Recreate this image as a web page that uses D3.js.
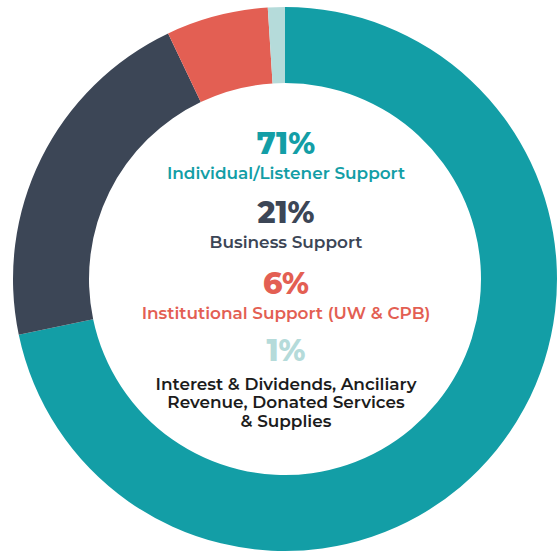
<!DOCTYPE html>
<html>
<head>
<meta charset="utf-8">
<script src="https://cdn.jsdelivr.net/npm/d3@7"></script>
<style>
  html, body { margin: 0; padding: 0; background: #ffffff; }
  svg { display: block; }
  text { font-family: "Montserrat", "Open Sans", sans-serif; text-anchor: middle; }
</style>
</head>
<body>
<div id="chart"></div>
<script>

// ***************************** DATA *****************************
var categories = [
    "Individual/Listener Support",
    "Business Support",
    "Institutional Support (UW & CPB)",
    "Interest & Dividends, Anciliary Revenue, Donated Services & Supplies"
];
var values = [71, 21, 6, 1];
var percent_labels = ["71%", "21%", "6%", "1%"];
// how each category name is broken over lines inside the hole
var label_lines = [
    ["Individual/Listener Support"],
    ["Business Support"],
    ["Institutional Support (UW & CPB)"],
    ["Interest & Dividends, Anciliary", "Revenue, Donated Services", "& Supplies"]
];

// ***************************** STYLE *****************************
var palette = ["#139ea6", "#3c4656", "#e35f53", "#b5dbda"];
var label_colors = ["#139ea6", "#3c4656", "#e35f53", "#1c1c1c"];

var svg_width = 560,
    svg_height = 552,
    cx = 285,
    cy = 279,
    r_outer = 272,
    r_inner = 196;

// baseline of the percent for each block, label lines follow below it
var block_y = [154, 223, 294, 361];
var label_gap = [25, 25, 25, 28.5],
    line_h = 18.6;

var svg = d3.select("#chart").append("svg")
    .attr("width", svg_width)
    .attr("height", svg_height);

// ***************************** DONUT *****************************
var pie = d3.pie().sort(null).value(function(d) { return d; });
var arc = d3.arc().innerRadius(r_inner).outerRadius(r_outer);

var g = svg.append("g")
    .attr("transform", "translate(" + cx + "," + cy + ")");

g.selectAll("path")
    .data(pie(values))
    .enter()
    .append("path")
      .attr("d", arc)
      .attr("fill", function(d, i) { return palette[i]; })
      .attr("shape-rendering", "geometricPrecision");

// ***************************** LABELS *****************************
for (var i = 0; i < categories.length; i++) {
    svg.append("text")
        .attr("x", cx + 1)
        .attr("y", block_y[i])
        .attr("fill", palette[i])
        .attr("font-size", 30)
        .attr("font-weight", 800)
        .text(percent_labels[i]);

    var lab = svg.append("text")
        .attr("class", "catLabel")
        .attr("fill", label_colors[i])
        .attr("font-size", 16.9)
        .attr("font-weight", 600);

    label_lines[i].forEach(function(line, j) {
        lab.append("tspan")
            .attr("x", cx + 1)
            .attr("y", block_y[i] + label_gap[i] + j * line_h)
            .text(line);
    });
}
</script>
</body>
</html>
